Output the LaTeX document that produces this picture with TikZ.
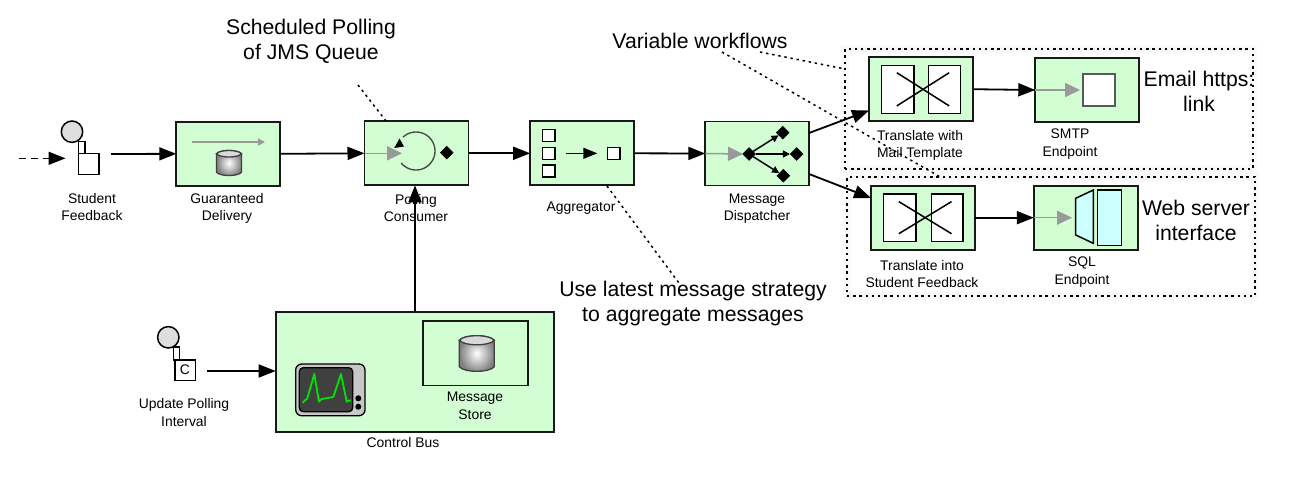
\documentclass[tikz,border=0pt]{standalone}
\usepackage{fontspec}
\setmainfont{Liberation Sans}
\usetikzlibrary{arrows.meta,shapes.geometric}
\definecolor{procfill}{HTML}{D3FDD3}
\definecolor{arrowgray}{HTML}{999999}
\definecolor{iconcyan}{HTML}{CCFFFF}
\tikzset{
  x=1pt,y=-1pt,
  proc/.style={draw=black!90,line width=1.8pt,fill=procfill,minimum width=104pt,minimum height=64pt,inner sep=0pt,outer sep=0pt},
  flow/.style={draw=black,line width=1.8pt,-{Triangle[length=17pt,width=13pt]}},
  inflow/.style={draw=arrowgray,line width=1.5pt,-{Triangle[length=15pt,width=14pt]}},
  dotline/.style={draw=black,line width=1.5pt,dash pattern=on 2.4pt off 3.8pt},
  dotbox/.style={dotline,inner sep=0pt,outer sep=0pt},
  glow/.style={draw=black!2.5,line width=8pt},
  small/.style={font=\fontsize{13.9}{17.5}\selectfont,align=center,inner sep=0pt},
  big/.style={font=\fontsize{21.2}{25}\selectfont,align=center,inner sep=0pt},
  panel/.style={draw=black,line width=1.5pt,fill=white},
  dia/.style={fill=black,diamond,inner sep=0pt,minimum size=13pt,draw=black,line width=.5pt},
  pers/.style={draw=black,line width=1.5pt,fill=white},
}
\newcommand{\dbcan}[4]{% cx, top, halfwidth, height
  \shade[inner color=white,outer color=black!50,draw=black!75,line width=1.3pt]
    (#1-#3,#2+#3*.3) -- (#1-#3,#2+#4-#3*.3)
    .. controls (#1-#3*.7,#2+#4+#3*.05) and (#1+#3*.7,#2+#4+#3*.05) .. (#1+#3,#2+#4-#3*.3)
    -- (#1+#3,#2+#3*.3)
    .. controls (#1+#3*.7,#2-#3*.05) and (#1-#3*.7,#2-#3*.05) .. (#1-#3,#2+#3*.3) -- cycle;
  \draw[draw=black!75,line width=1.3pt,fill=black!15] (#1-#3,#2+#3*.3)
    .. controls (#1-#3*.7,#2-#3*.05) and (#1+#3*.7,#2-#3*.05) .. (#1+#3,#2+#3*.3)
    .. controls (#1+#3*.7,#2+#3*.65) and (#1-#3*.7,#2+#3*.65) .. (#1-#3,#2+#3*.3) -- cycle;
}
\newcommand{\translator}[7]{% x1 x2 x3 x4 y1 y2 crossinset
  \draw[panel] (#1,#5) rectangle (#2,#6);
  \draw[panel] (#3,#5) rectangle (#4,#6);
  \draw[black,line width=1.5pt] (#1+15.5,#5+#7) -- (#4-11.5,#6-#7);
  \draw[black,line width=1.5pt] (#1+15.5,#6-#7) -- (#4-11.5,#5+#7);
}
\begin{document}
\begin{tikzpicture}
\useasboundingbox (0,0) rectangle (1289,483);
% dotted groups
\draw[glow] (845,49) rectangle (1253,169);
\draw[glow] (847,177.2) rectangle (1255,296.2);
\node[dotbox,minimum width=408pt,minimum height=120pt] (groupa) at (1049,109) {};
\node[dotbox,minimum width=408pt,minimum height=119pt] (groupb) at (1051,236.7) {};
% processor boxes
\node[proc] (gd) at (228.3,153.8) {};
\node[proc] (pc) at (416.5,153.3) {};
\node[proc] (agg) at (582.2,153.3) {};
\node[proc] (md) at (757.3,153.5) {};
\node[proc] (tm) at (921.2,89.2) {};
\node[proc] (smtp) at (1087.3,90) {};
\node[proc] (ts) at (923.2,217.7) {};
\node[proc] (sql) at (1085.8,217.7) {};
\node[proc,minimum width=278pt,minimum height=120pt] (cb) at (414.7,371.7) {};
\node[proc,minimum width=105pt,minimum height=64.5pt] (ms) at (475.6,353.3) {};
% labels
\node[small] (lstudent) at (92,207) {Student\\Feedback};
\node[small] (lgd) at (227,208.5) {Guaranteed\\Delivery};
\node[small] (lpc) at (416,208) {Polling\\Consumer};
\node[small] (lagg) at (581,208) {Aggregator};
\node[small] (lmd) at (757,208.5) {Message\\Dispatcher};
\node[small] (ltm) at (920,145.5) {Translate with\\Mail Template};
\node[small] (lsmtp) at (1070,144) {SMTP\\Endpoint};
\node[small] (lts) at (922,274) {Translate into\\Student Feedback};
\node[small] (lsql) at (1082,272) {SQL\\Endpoint};
\node[small] (lupd) at (184,412.5) {Update Polling\\Interval};
\node[small] (lcb) at (403,443) {Control Bus};
\node[small] (lms) at (475,406) {Message\\Store};
\node[big] (tsched) at (311,41.5) {Scheduled Polling\\of JMS Queue};
\node[big] (tvar) at (700,40.5) {Variable workflows};
\node[big] (tuse) at (693,303.5) {Use latest message strategy\\to aggregate messages};
\node[big] (temail) at (1199,91) {Email https:\\link};
\node[big] (tweb) at (1196,220) {Web server\\interface};
% callouts
\coordinate (c1a) at (358,85);
\coordinate (c1b) at (386,121);
\draw[dotline] (c1a) -- (c1b);
\coordinate (c2a) at (607,186);
\coordinate (c2b) at (679,283);
\draw[dotline] (c2a) -- (c2b);
\coordinate (c3a) at (760,52);
\coordinate (c3b) at (845,69);
\draw[dotline] (c3a) -- (c3b);
\coordinate (c4a) at (722,52);
\coordinate (c4b) at (942,178);
\draw[dotline] (c4a) -- (c4b);
% student endpoint
\coordinate (sin) at (19,158.3);
\coordinate (sinb) at (65.5,158.3);
\draw[line width=1.6pt,dash pattern=on 7pt off 5pt,-{Triangle[length=17pt,width=13pt]}] (sin) -- (sinb);
\draw[pers] (78.4,141.7) rectangle (84.8,154);
\draw[pers,fill=black!13] (72,131.7) circle (10.7);
\draw[pers] (78.6,153.6) rectangle (99,174.5);
\coordinate (sout) at (111,154);
\draw[flow] (sout) -- (gd.west);
% update endpoint
\draw[pers] (173.4,347) rectangle (179.6,360);
\draw[pers,fill=black!13] (168.3,337.3) circle (10.7);
\node[draw=black,line width=1.5pt,fill=white,minimum size=20.5pt,inner sep=0pt,outer sep=0pt,font=\fontsize{13.9}{16}\selectfont] (upd) at (185,370.2) {C};
\coordinate (uout) at (207,371);
\draw[flow] (uout) -- (uout -| cb.west);
% main flows
\draw[flow] (gd.east) -- (pc.west);
\draw[flow] (pc.east) -- (agg.west);
\draw[flow] (agg.east) -- (md.west);
\coordinate (mdtop) at (809,133);
\coordinate (tmin) at (869,110.5);
\draw[flow] (mdtop) -- (tmin);
\coordinate (mdbot) at (809,174);
\coordinate (tsin) at (871,198);
\draw[flow] (mdbot) -- (tsin);
\draw[flow] (tm.east) -- (smtp.west);
\draw[flow] (ts.east) -- (sql.west);
\coordinate (cbtop) at (415,312);
\draw[flow] (cbtop) -- (cbtop |- pc.south);
% guaranteed delivery icon
\draw[draw=arrowgray,line width=1.4pt,-{Triangle[length=7pt,width=7pt]}] (192,142) -- (265,142);
\dbcan{229}{150}{12.5}{26}
% polling consumer icon
\draw[draw=black!70,line width=1.4pt,domain=141:-133,samples=50,smooth] plot ({416+19*cos(\x)},{151+19*sin(\x)});
\fill[black] (394.3,148) -- (399.5,138.5) -- (404,146.5) -- cycle;
\draw[inflow] (pc.west) -- (402,153.3);
\node[dia] (pcd) at (446.7,152.7) {};
% aggregator icon
\draw[panel] (542.3,129.3) rectangle (555,141.5);
\draw[panel] (542.3,147.3) rectangle (555,159.7);
\draw[panel] (542.3,165) rectangle (555,177);
\draw[panel] (607.7,147.3) rectangle (620,159.7);
\draw[black,line width=1.5pt,-{Triangle[length=14pt,width=11pt]}] (565.7,153.3) -- (597.3,153.3);
% dispatcher icon
\node[dia] (d0) at (749,154) {};
\node[dia] (d1) at (782.7,132.7) {};
\node[dia] (d2) at (796.7,154) {};
\node[dia] (d3) at (783.3,175.7) {};
\draw[inflow] (md.west) -- (743,154);
\draw[black,line width=1.5pt,-{Triangle[length=7pt,width=7pt]}] (d0) -- (d1);
\draw[black,line width=1.5pt,-{Triangle[length=7pt,width=7pt]}] (d0) -- (d2);
\draw[black,line width=1.5pt,-{Triangle[length=7pt,width=7pt]}] (d0) -- (d3);
% translators
\translator{881.3}{914}{928.3}{960.7}{65.3}{113.3}{7.4}
\translator{883.3}{916}{931.7}{963}{194}{241.3}{7.6}
% SMTP icon
\draw[inflow] (smtp.west) -- (1080,90);
\draw[draw=black!65,line width=1.8pt,fill=white] (1083.3,74) rectangle (1115,106.3);
% SQL icon
\draw[inflow] (sql.west) -- (1072,217.7);
\draw[draw=black,line width=1.5pt,fill=iconcyan] (1075.7,198.3) -- (1093.3,190) -- (1093.3,243.3) -- (1075.7,235) -- cycle;
\draw[draw=black,line width=1.5pt,fill=iconcyan] (1097.3,190) rectangle (1121.7,245.3);
% message store can
\dbcan{476.8}{335}{17.5}{37}
% monitor
\draw[draw=black,line width=1.3pt,fill=black!22,rounded corners=6pt] (295.7,364) rectangle (365,415.7);
\draw[draw=black,line width=1.3pt,fill=black!75,rounded corners=4pt] (299.3,367.7) rectangle (352.7,411.7);
\draw[draw=green!90!black,line width=1.8pt,line join=round] (302.7,402.7) -- (307.3,398.3) -- (314.3,374) -- (319,401.7) -- (321.7,399) -- (333.3,397) -- (341,374) -- (346.7,401.7) -- (350.7,400);
\fill[black] (358.3,398.3) circle (3);
\fill[black] (358.3,406.7) circle (3);
\end{tikzpicture}
\end{document}
